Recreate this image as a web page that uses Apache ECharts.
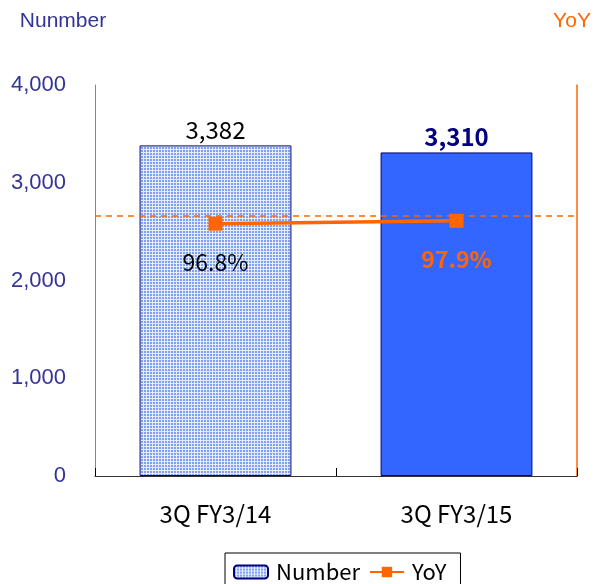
<!DOCTYPE html>
<html>
<head>
<meta charset="utf-8">
<script src="https://cdn.jsdelivr.net/npm/echarts@6/dist/echarts.min.js"></script>
<style>
  html, body { margin: 0; padding: 0; background: #ffffff; }
  #chart { width: 595px; height: 584px; }
</style>
</head>
<body>
<div id="chart"></div>
<script>
// Quarterly totals and year-over-year ratio
const categories = ['3Q FY3/14', '3Q FY3/15'];
const numberValues = [3382, 3310];
const yoyValues = [96.8, 97.9];
const leftTicks = [0, 1000, 2000, 3000, 4000];
const yoyBaseline = 100;

// Fine dotted fill used for the earlier period bar
function dotPattern() {
  const c = document.createElement('canvas');
  c.width = 3; c.height = 3;
  const g = c.getContext('2d');
  g.fillStyle = '#e4ecff';
  g.fillRect(0, 0, 3, 3);
  g.fillStyle = '#7f9ff2';
  g.fillRect(0, 0, 2, 2);
  return c;
}
const pattern = { image: dotPattern(), repeat: 'repeat' };

const FONT = '"Noto Sans CJK JP", "Noto Sans", sans-serif';
const SANS = '"Liberation Sans", Arial, sans-serif';
const AXIS_BLUE = '#333399';
const ORANGE = '#ff6600';

const barData = numberValues.map((v, i) => i === 0
  ? { value: v, label: { color: '#000000', fontWeight: 'normal' } }
  : { value: v, itemStyle: { color: '#3366ff', borderColor: '#000080' },
      label: { color: '#000080', fontWeight: 'bold' } });

const lineData = yoyValues.map((v, i) => i === 0
  ? { value: v, label: { color: '#000000', fontWeight: 'normal' } }
  : { value: v, label: { color: ORANGE, fontWeight: 'bold' } });

const chart = echarts.init(document.getElementById('chart'), null, { renderer: 'canvas' });
chart.setOption({
  animation: false,
  backgroundColor: '#ffffff',
  textStyle: { fontFamily: FONT },
  grid: { left: 95, right: 18, top: 85, bottom: 108, containLabel: false, outerBoundsMode: 'none' },
  legend: {
    top: 553,
    left: 225,
    itemWidth: 34,
    itemHeight: 13,
    itemGap: 9,
    padding: [8, 14, 12, 8],
    borderColor: '#000000',
    borderWidth: 1,
    textStyle: { fontFamily: FONT, fontSize: 22, color: '#000000', padding: [0, 0, 0, 3] },
    data: ['Number', 'YoY']
  },
  xAxis: {
    type: 'category',
    data: categories,
    axisLine: { lineStyle: { color: '#333333', width: 1 } },
    axisTick: { show: true, inside: true, length: 8, lineStyle: { color: '#000000' } },
    axisLabel: { color: '#000000', fontSize: 24, margin: 26, fontFamily: FONT }
  },
  yAxis: [
    {
      type: 'value',
      min: leftTicks[0],
      max: leftTicks[leftTicks.length - 1],
      interval: leftTicks[1] - leftTicks[0],
      name: 'Nunmber',
      nameLocation: 'end',
      nameGap: 53,
      nameTextStyle: { color: AXIS_BLUE, fontSize: 21, fontFamily: SANS, align: 'center', padding: [0, 64, 0, 0] },
      axisLine: { show: true, lineStyle: { color: '#8080c0', width: 1 } },
      axisTick: { show: false },
      splitLine: { show: false },
      axisLabel: {
        color: AXIS_BLUE, fontSize: 22, margin: 29,
        fontFamily: SANS,
        padding: [5, 0, 0, 0],
        formatter: v => v.toLocaleString('en-US')
      }
    },
    {
      type: 'value',
      min: 0,
      max: 150,
      position: 'right',
      name: 'YoY',
      nameLocation: 'end',
      nameGap: 53,
      nameTextStyle: { color: ORANGE, fontSize: 21, fontFamily: SANS, align: 'center', padding: [0, 10, 0, 0] },
      axisLine: { show: true, lineStyle: { color: ORANGE, width: 1.5 } },
      axisTick: { show: false },
      splitLine: { show: false },
      axisLabel: { show: false }
    }
  ],
  series: [
    {
      name: 'Number',
      type: 'bar',
      yAxisIndex: 0,
      data: barData,
      barCategoryGap: '37%',
      itemStyle: { color: pattern, borderColor: '#000080', borderWidth: 1 },
      label: {
        show: true,
        position: 'top',
        distance: 4,
        fontSize: 24,
        fontFamily: FONT,
        formatter: p => p.value.toLocaleString('en-US')
      },
      z: 2
    },
    {
      name: 'YoY',
      type: 'line',
      yAxisIndex: 1,
      data: lineData,
      symbol: 'rect',
      symbolSize: 14,
      lineStyle: { color: ORANGE, width: 3.5 },
      itemStyle: { color: ORANGE },
      label: {
        show: true,
        position: 'bottom',
        distance: 20,
        fontSize: 23,
        fontFamily: FONT,
        formatter: p => p.value.toFixed(1) + '%'
      },
      markLine: {
        silent: true,
        symbol: 'none',
        label: { show: false },
        lineStyle: { color: ORANGE, type: [6, 5], width: 1.5 },
        data: [{ yAxis: yoyBaseline }]
      },
      z: 5
    }
  ]
});
</script>
</body>
</html>
